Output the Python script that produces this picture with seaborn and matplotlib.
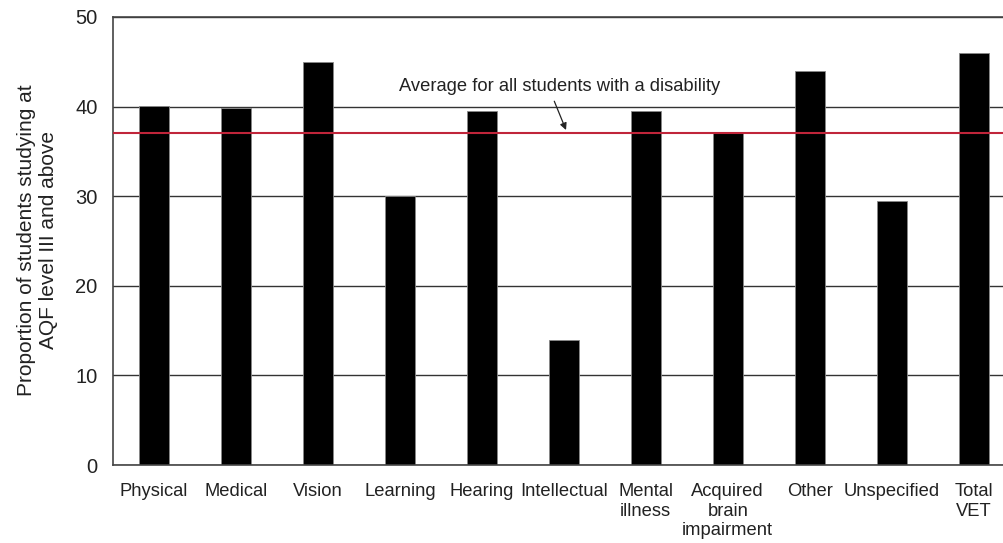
import matplotlib
matplotlib.use("Agg")
import matplotlib.pyplot as plt
import seaborn as sns
import pandas as pd

categories = ["Physical", "Medical", "Vision", "Learning", "Hearing", "Intellectual",
              "Mental\nillness", "Acquired\nbrain\nimpairment", "Other", "Unspecified", "Total\nVET"]
values = [40.1, 39.8, 45.0, 30.0, 39.5, 14.0, 39.5, 37.0, 44.0, 29.5, 46.0]
average = 37.1

sns.set_style("white")
plt.rcParams['font.family'] = ['Liberation Sans', 'DejaVu Sans']

df = pd.DataFrame({"cat": categories, "val": values})

fig = plt.figure(figsize=(10.04, 5.43), dpi=100)
ax = fig.add_axes([0.1125, 0.1436, 0.8875, 0.8251])

ax.set_axisbelow(True)
ax.yaxis.grid(True, color="#333333", linewidth=1)
sns.barplot(data=df, x="cat", y="val", color="black", width=0.366,
            saturation=1, edgecolor="#888888", linewidth=0.6, ax=ax)

ax.axhline(average, color="#c0253a", linewidth=1.5, zorder=3)
ax.annotate("Average for all students with a disability",
            xy=(5.04, average), xytext=(4.945, 42.2),
            ha="center", va="center", fontsize=13.2, color="#222222",
            arrowprops=dict(arrowstyle="-|>", color="#222222", lw=0.9,
                            relpos=(0.477, 0.0), shrinkA=2, shrinkB=2,
                            mutation_scale=10))

ax.set_ylim(0, 50)
ax.set_xlim(-0.5, 10.37)
ax.set_yticks([0, 10, 20, 30, 40, 50])
ax.tick_params(axis="both", colors="#222222", length=0)
ax.tick_params(axis="x", labelsize=13.2, pad=13)
ax.tick_params(axis="y", labelsize=14.5, pad=11)
ax.set_xlabel("")
ax.set_ylabel("Proportion of students studying at\nAQF level III and above",
              fontsize=15, color="#222222")
ax.yaxis.set_label_coords(-0.062, 0.502)

for s in ["left", "bottom", "top"]:
    ax.spines[s].set_visible(True)
    ax.spines[s].set_color("#444444")
    ax.spines[s].set_linewidth(1.2)
ax.spines["right"].set_visible(False)

fig.savefig("out.png", dpi=100)
